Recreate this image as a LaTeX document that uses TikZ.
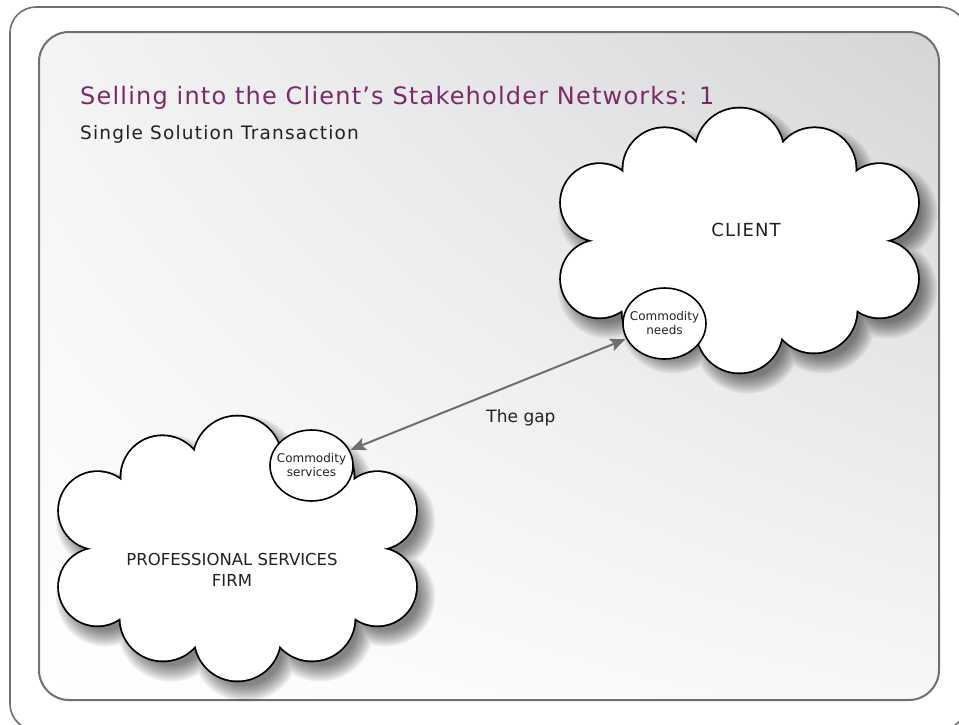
\documentclass[tikz,border=0pt]{standalone}
\usepackage{fontspec}
\setmainfont{DejaVu Sans}
\usetikzlibrary{shapes.geometric,arrows.meta,shadings}

\definecolor{titlepurple}{RGB}{126,40,108}
\definecolor{framegray}{RGB}{112,112,112}
\definecolor{inkdark}{RGB}{34,34,34}
\definecolor{panellight}{RGB}{247,247,247}
\definecolor{panelmid}{RGB}{243,244,244}
\definecolor{paneldark}{RGB}{212,213,215}
\definecolor{arrowgray}{RGB}{110,110,110}

% outline of a ten-puff cloud around the origin, grown by #1
\newcommand\puffpath[1]{%
  (0,-88.1) circle[radius=43.9+#1]
  (75.1,-71.3) circle[radius=41+#1]
  (140,-37.9) circle[radius=38.5+#1]
  (140,38.4) circle[radius=38.5+#1]
  (74.5,69.4) circle[radius=42.6+#1]
  (0,89.3) circle[radius=42.7+#1]
  (-74.5,69.4) circle[radius=42.6+#1]
  (-140,38.4) circle[radius=38.5+#1]
  (-140,-37.9) circle[radius=38.5+#1]
  (-75.1,-71.3) circle[radius=41+#1]
  (0,0) ellipse[x radius=138, y radius=86]}

% soft shadow, black rim and white body of a cloud
\newcommand\drawcloud{%
  \foreach \grow in {11,9,7,5,3,1,-1,-3,-5}
    \fill[black, opacity=0.065, shift={(8,10)}] \puffpath{\grow};
  \draw[black, line width=3.6pt] \puffpath{0};
  \fill[white] \puffpath{0};}

\tikzset{
  outerframe/.style={draw=framegray, line width=1.6pt, rounded corners=26pt},
  innerframe/.style={draw=framegray, line width=2pt, rounded corners=30pt},
  bubble/.style={ellipse, draw=black, line width=1.6pt, fill=white,
    minimum width=83pt, minimum height=71pt, inner xsep=-6pt, inner ysep=0pt,
    align=center, text=inkdark, font=\fontsize{12}{14}\selectfont},
  bigtext/.style={text=inkdark, align=center},
  gaparrow/.style={draw=arrowgray, line width=2pt,
    {Stealth[length=15pt,width=13pt,inset=3pt]}-{Stealth[length=15pt,width=13pt,inset=3pt]},
    shorten <=1pt, shorten >=1pt}
}

\begin{document}
\begin{tikzpicture}[x=1pt,y=-1pt]
\useasboundingbox (0,0) rectangle (959,724);
\clip (0,0) rectangle (959,724);

% frames and shaded panel
\fill[white] (0,0) rectangle (959,724);
\draw[outerframe] (10,7) rectangle (966,730);
\shade[rounded corners=30pt, upper left=panelmid, upper right=paneldark,
  lower left=white, lower right=panellight] (39,32) rectangle (939,700);
\draw[innerframe] (39,32) rectangle (939,700);

% headings
\node[anchor=base west, inner sep=0pt, text=titlepurple,
  font=\fontsize{24}{28}\selectfont\addfontfeatures{LetterSpace=5}] (title) at (80,104)
  {Selling into the Client’s Stakeholder Networks: 1};
\node[anchor=base west, inner sep=0pt, text=inkdark,
  font=\fontsize{18.5}{22}\selectfont\addfontfeatures{LetterSpace=6.5}] (subtitle) at (80,139)
  {Single Solution Transaction};

% the two stakeholder clouds
\coordinate (client) at (739.5,240.5);
\begin{scope}[shift={(client)}]
  \drawcloud
\end{scope}
\node[bigtext, font=\fontsize{18}{22}\selectfont\addfontfeatures{LetterSpace=6}]
  (clientlabel) at (746,230) {CLIENT};

\coordinate (firm) at (237.5,548.5);
\begin{scope}[shift={(firm)}]
  \drawcloud
\end{scope}
\node[bigtext, font=\fontsize{16.5}{21}\selectfont] (firmlabel) at (232,570)
  {PROFESSIONAL SERVICES\\FIRM};

% offerings and needs
\node[bubble] (needs) at (664.5,323.5) {Commodity\\needs};
\node[bubble] (services) at (311.5,465.5) {Commodity\\services};

% the gap between them
\draw[gaparrow] (services) -- (needs);
\node[bigtext, font=\fontsize{17}{20}\selectfont] (gap) at (521,418) {The gap};
\end{tikzpicture}
\end{document}
